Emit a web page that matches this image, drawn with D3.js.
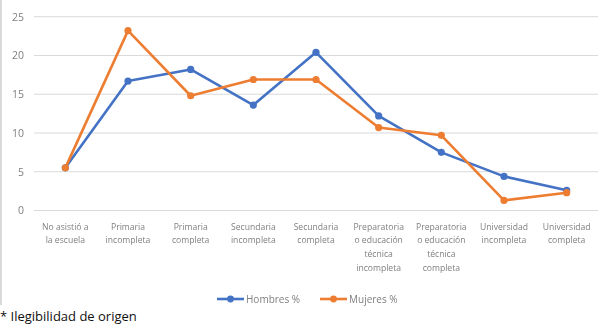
<!DOCTYPE html>
<html>
<head>
<meta charset="utf-8">
<script src="https://cdn.jsdelivr.net/npm/d3@7"></script>
<style>
  body { margin: 0; background: #fff; }
  #chart { position: relative; width: 600px; height: 327px; }
  #chart svg.plot { filter: blur(0.45px); }
  .note { position: absolute; left: 0; top: 307px; font-family: "Open Sans", sans-serif; font-size: 13px; color: #111; }
</style>
</head>
<body>
<div id="chart"></div>
<script>
// categories (x axis), one string per line of the tick label
const categories = [
    ["No asistió a", "la escuela"],
    ["Primaria", "incompleta"],
    ["Primaria", "completa"],
    ["Secundaria", "incompleta"],
    ["Secundaria", "completa"],
    ["Preparatoria", "o educación", "técnica", "incompleta"],
    ["Preparatoria", "o educación", "técnica", "completa"],
    ["Universidad", "incompleta"],
    ["Universidad", "completa"]
];
const hombres = [5.5, 16.7, 18.2, 13.6, 20.4, 12.2, 7.5, 4.4, 2.6];
const mujeres = [5.5, 23.2, 14.8, 16.9, 16.9, 10.7, 9.7, 1.3, 2.3];
const yTicks = [0, 5, 10, 15, 20, 25];
const seriesNames = ["Hombres %", "Mujeres %"];

const width = 600;
const height = 327;
const margin = { top: 16.7, right: 2, bottom: 116.5, left: 34 };

const svg = d3.select("#chart")
    .append("svg")
    .attr("class", "plot")
    .attr("width", width)
    .attr("height", height);

// left border of the original frame
svg.append("line")
    .attr("x1", 1).attr("x2", 1)
    .attr("y1", 0).attr("y2", 305)
    .attr("stroke", "#d9d9d9")
    .attr("stroke-width", 2);

const keys = categories.map((d, i) => i);
const x = d3.scaleBand()
    .domain(keys)
    .range([margin.left, width - margin.right]);

const y = d3.scaleLinear()
    .domain([0, 25])
    .range([height - margin.bottom, margin.top]);

// gridlines
svg.append("g")
    .selectAll("line")
    .data(yTicks)
    .join("line")
    .attr("x1", margin.left)
    .attr("x2", width - margin.right)
    .attr("y1", d => y(d))
    .attr("y2", d => y(d))
    .attr("stroke", "#d9d9d9")
    .attr("stroke-width", 1);

// y axis labels
const yAxis = d3.axisLeft(y).tickValues(yTicks).tickSize(0).tickPadding(0);
svg.append("g")
    .attr("transform", `translate(24,0)`)
    .call(yAxis)
    .call(g => g.select(".domain").remove())
    .call(g => g.selectAll("text")
        .attr("fill", "#7f7f7f")
        .style("font-family", "'Open Sans', sans-serif")
        .style("font-size", "10.5px"));

// x axis labels (multi-line)
const xLabels = svg.append("g")
    .selectAll("text")
    .data(keys)
    .join("text")
    .attr("x", d => x(d) + x.bandwidth() / 2)
    .attr("y", 229.5)
    .attr("text-anchor", "middle")
    .attr("fill", "#808080")
    .style("font-family", "'Open Sans', sans-serif")
    .style("font-size", "8.6px");

xLabels.selectAll("tspan")
    .data(d => categories[d])
    .join("tspan")
    .attr("x", function () { return d3.select(this.parentNode).attr("x"); })
    .attr("dy", (d, i) => i === 0 ? 0 : 13.7)
    .text(d => d);

const series = [
    { name: seriesNames[0], values: hombres, color: "#4472c4" },
    { name: seriesNames[1], values: mujeres, color: "#ed7d31" }
];

const line = d3.line()
    .x((d, i) => x(i) + x.bandwidth() / 2)
    .y(d => y(d));

// draw Hombres first, then Mujeres on top
series.forEach(s => {
    svg.append("path")
        .datum(s.values)
        .attr("d", line)
        .attr("fill", "none")
        .attr("stroke", s.color)
        .attr("stroke-width", 2.6)
        .attr("stroke-linejoin", "round");

    svg.append("g")
        .selectAll("circle")
        .data(s.values)
        .join("circle")
        .attr("cx", (d, i) => x(i) + x.bandwidth() / 2)
        .attr("cy", d => y(d))
        .attr("r", 3.6)
        .attr("fill", s.color);
});

// legend
const legendPos = [217, 320];
const legend = svg.append("g")
    .selectAll("g")
    .data(series)
    .join("g")
    .attr("transform", (d, i) => `translate(${legendPos[i]}, 299)`);

legend.append("line")
    .attr("x1", 0).attr("x2", 27)
    .attr("stroke", d => d.color)
    .attr("stroke-width", 2.6);

legend.append("circle")
    .attr("cx", 13.5)
    .attr("r", 3.4)
    .attr("fill", d => d.color);

legend.append("text")
    .attr("x", 29)
    .attr("y", 3.5)
    .attr("fill", "#808080")
    .style("font-family", "'Open Sans', sans-serif")
    .style("font-size", "10px")
    .text(d => d.name);

d3.select("#chart")
    .append("div")
    .attr("class", "note")
    .text("* Ilegibilidad de origen");
</script>
</body>
</html>
